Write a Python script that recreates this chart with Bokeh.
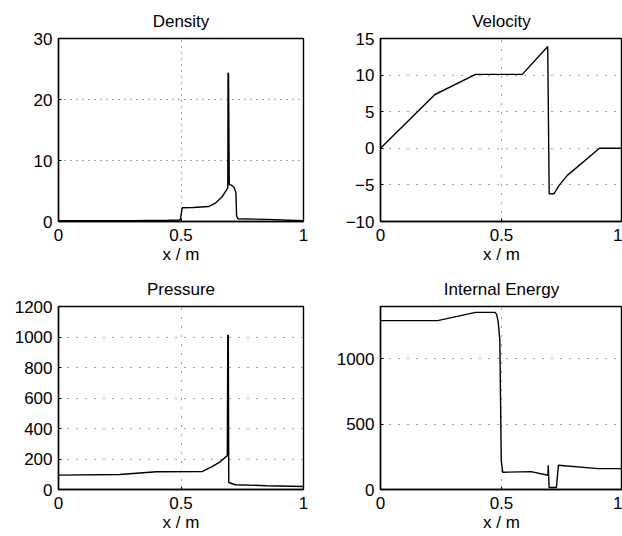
from bokeh.plotting import figure
from bokeh.layouts import column, row
from bokeh.models import Range1d, FixedTicker, CustomJSTickFormatter
from bokeh.embed import file_html
from bokeh.resources import INLINE

# ---- data ----
x_density = [0, 0.3, 0.45, 0.497, 0.505, 0.55, 0.613, 0.64, 0.667, 0.691, 0.692, 0.694, 0.697, 0.705,
             0.716, 0.724, 0.727, 0.732, 0.85, 1.0]
density = [0.15, 0.15, 0.2, 0.25, 2.25, 2.3, 2.45, 3.0, 4.0, 5.5, 24.3, 24.3, 6.0, 6.0,
           5.6, 4.8, 0.9, 0.45, 0.35, 0.12]

x_velocity = [0, 0.225, 0.393, 0.586, 0.691, 0.697, 0.717, 0.738, 0.772, 0.905, 1.0]
velocity = [0, 7.35, 10.1, 10.1, 13.9, -6.2, -6.2, -5.07, -3.7, 0.0, 0.0]

x_pressure = [0, 0.25, 0.40, 0.586, 0.627, 0.661, 0.689, 0.691, 0.693, 0.695, 0.722, 0.85, 1.0]
pressure = [94, 98, 116, 117, 150, 183, 222, 1012, 1012, 46, 31, 25, 20]

x_energy = [0, 0.236, 0.393, 0.473, 0.48, 0.486, 0.493, 0.499, 0.505, 0.622, 0.692, 0.693,
            0.697, 0.727, 0.735, 0.9, 1.0]
energy = [1292, 1292, 1355, 1355, 1340, 1287, 1147, 221, 132, 137, 109, 185,
          15, 15, 185, 160, 160]

x_ticks = [0, 0.5, 1]
density_ticks = [0, 10, 20, 30]
velocity_ticks = [-10, -5, 0, 5, 10, 15]
pressure_ticks = [0, 200, 400, 600, 800, 1000, 1200]
energy_ticks = [0, 500, 1000]

FONT = "Liberation Sans"
FS = "17px"


def make_panel(title, xs, ys, yr, yticks, left_border, right_border, dash):
    p = figure(width=311, height=268, output_backend="svg", toolbar_location=None,
               x_range=Range1d(0, 1), y_range=Range1d(*yr),
               min_border_left=left_border, min_border_right=right_border,
               min_border_top=38, min_border_bottom=47)
    p.title.text = title
    p.title.align = "center"
    p.title.text_font = FONT
    p.title.text_font_size = FS
    p.title.text_font_style = "normal"
    p.title.text_color = "black"
    p.title.standoff = 15
    p.background_fill_color = "white"
    p.border_fill_color = "white"
    p.outline_line_color = "black"
    p.outline_line_width = 1.4
    p.outline_line_alpha = 1.0

    fmt = CustomJSTickFormatter(code="return String(tick).replace('-', '\\u2212');")
    p.xaxis.ticker = FixedTicker(ticks=x_ticks)
    p.yaxis.ticker = FixedTicker(ticks=yticks)
    for ax in (p.xaxis[0], p.yaxis[0]):
        ax.formatter = fmt
        ax.major_label_text_font = FONT
        ax.major_label_text_font_size = FS
        ax.major_label_text_color = "black"
        ax.axis_line_color = "black"
        ax.axis_line_width = 1.4
        ax.major_tick_in = 3
        ax.major_tick_out = 0
        ax.minor_tick_in = 0
        ax.minor_tick_out = 0
        ax.major_tick_line_color = "black"
    p.xaxis.axis_label = "x / m"
    p.xaxis.axis_label_text_font = FONT
    p.xaxis.axis_label_text_font_size = FS
    p.xaxis.axis_label_text_font_style = "normal"
    p.xaxis.axis_label_text_color = "black"
    p.xaxis.axis_label_standoff = 1
    p.xaxis.major_label_standoff = 7
    p.yaxis.major_label_standoff = 6

    for g in (p.xgrid[0], p.ygrid[0]):
        g.grid_line_color = "black"
        g.grid_line_alpha = 0.75
        g.grid_line_width = 1
        g.grid_line_dash = dash

    p.line(xs, ys, line_color="black", line_width=1.4)
    return p


p1 = make_panel("Density", x_density, density, (0, 30), density_ticks, 58, 8, "1 5")
p2 = make_panel("Velocity", x_velocity, velocity, (-10, 15), velocity_ticks, 69, 0, "1 8")
p3 = make_panel("Pressure", x_pressure, pressure, (0, 1200), pressure_ticks, 58, 8, "1 8")
p4 = make_panel("Internal Energy", x_energy, energy, (0, 1400), energy_ticks, 69, 0, "1 8")

layout = column(row(p1, p2), row(p3, p4))

with open("out.html", "w", encoding="utf-8") as f:
    f.write(file_html(layout, INLINE))
